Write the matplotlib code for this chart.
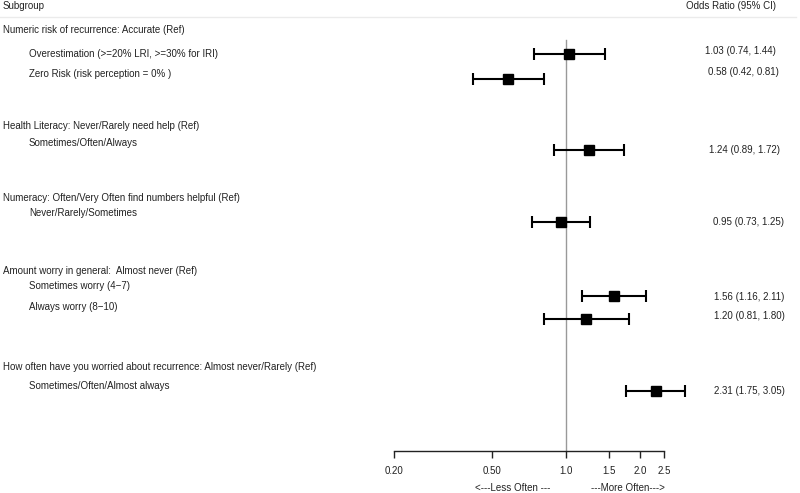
import matplotlib
matplotlib.use("Agg")
import matplotlib.pyplot as plt
from matplotlib.ticker import FixedLocator, NullLocator

plt.rcParams['font.family'] = ['Liberation Sans', 'DejaVu Sans']

# ---- data ----
group_labels = [
    "Numeric risk of recurrence: Accurate (Ref)",
    "Health Literacy: Never/Rarely need help (Ref)",
    "Numeracy: Often/Very Often find numbers helpful (Ref)",
    "Amount worry in general:  Almost never (Ref)",
    "How often have you worried about recurrence: Almost never/Rarely (Ref)",
]
item_labels = [
    "Overestimation (>=20% LRI, >=30% for IRI)",
    "Zero Risk (risk perception = 0% )",
    "Sometimes/Often/Always",
    "Never/Rarely/Sometimes",
    "Sometimes worry (4\u22127)",
    "Always worry (8\u221210)",
    "Sometimes/Often/Almost always",
]
odds_ratio = [1.03, 0.58, 1.24, 0.95, 1.56, 1.20, 2.31]
ci_low = [0.74, 0.42, 0.89, 0.73, 1.16, 0.81, 1.75]
ci_high = [1.44, 0.81, 1.72, 1.25, 2.11, 1.80, 3.05]
tick_values = [0.20, 0.50, 1.0, 1.5, 2.0, 2.5]
tick_labels = ["0.20", "0.50", "1.0", "1.5", "2.0", "2.5"]

# ---- layout (pixel rows, from top) ----
W, H = 800, 493
group_text_y = [30, 126, 198, 271, 367]
item_text_y = [54, 74, 143, 213, 286, 307, 386]
mark_y = [54, 79, 150, 222, 296, 319, 391]
ci_text_y = [51, 72, 150, 222, 297, 316, 391]
ci_text_x = [705, 708, 709, 713, 714, 714, 714]
axis_y = 451
x_left_px, x_right_px = 394, 664

fig = plt.figure(figsize=(W / 100, H / 100), dpi=100)

# overlay axes for text in pixel coordinates
tax = fig.add_axes([0, 0, 1, 1])
tax.set_xlim(0, W)
tax.set_ylim(H, 0)
tax.axis('off')

fs = 7
tc = '#222222'
tax.text(3, 6, "Subgroup", fontsize=fs, va='center', ha='left', color=tc)
tax.text(686, 6, "Odds Ratio (95% CI)", fontsize=fs, va='center', ha='left', color=tc)
tax.plot([0, 796], [17, 17], color='#ebebeb', lw=1)

for lab, y in zip(group_labels, group_text_y):
    tax.text(3, y, lab, fontsize=fs, va='center', ha='left', color=tc)
for lab, y in zip(item_labels, item_text_y):
    tax.text(29, y, lab, fontsize=fs, va='center', ha='left', color=tc)
for o, l, h, y, x in zip(odds_ratio, ci_low, ci_high, ci_text_y, ci_text_x):
    tax.text(x, y, f"{o:.2f} ({l:.2f}, {h:.2f})", fontsize=fs, va='center', ha='left', color=tc)

tax.text(513, 488, "<---Less Often ---", fontsize=fs, va='center', ha='center', color=tc)
tax.text(628, 488, "---More Often--->", fontsize=fs, va='center', ha='center', color=tc)

# data axes (log x)
ax = fig.add_axes([x_left_px / W, 0, (x_right_px - x_left_px) / W, 1])
ax.set_xscale('log')
ax.set_xlim(tick_values[0], tick_values[-1])
ax.set_ylim(H, 0)
ax.patch.set_alpha(0)
for s in ['top', 'left', 'right']:
    ax.spines[s].set_visible(False)
ax.spines['bottom'].set_position(('data', axis_y))
ax.spines['bottom'].set_linewidth(1.0)
ax.spines['bottom'].set_color(tc)
ax.xaxis.set_major_locator(FixedLocator(tick_values))
ax.xaxis.set_minor_locator(NullLocator())
ax.set_xticklabels(tick_labels)
ax.tick_params(axis='x', direction='out', length=5, width=1.0, pad=6,
               labelsize=fs, colors=tc)
ax.yaxis.set_visible(False)

ax.plot([1, 1], [40, axis_y], color='#999999', lw=1.0, zorder=1)

for o, l, h, y in zip(odds_ratio, ci_low, ci_high, mark_y):
    ax.errorbar([o], [y], xerr=[[o - l], [h - o]], fmt='s', color='black',
                ms=7, mfc='black', mec='black', elinewidth=1.5,
                capsize=4.5, capthick=1.5, clip_on=False, zorder=3)

fig.savefig("out.png", dpi=100)
